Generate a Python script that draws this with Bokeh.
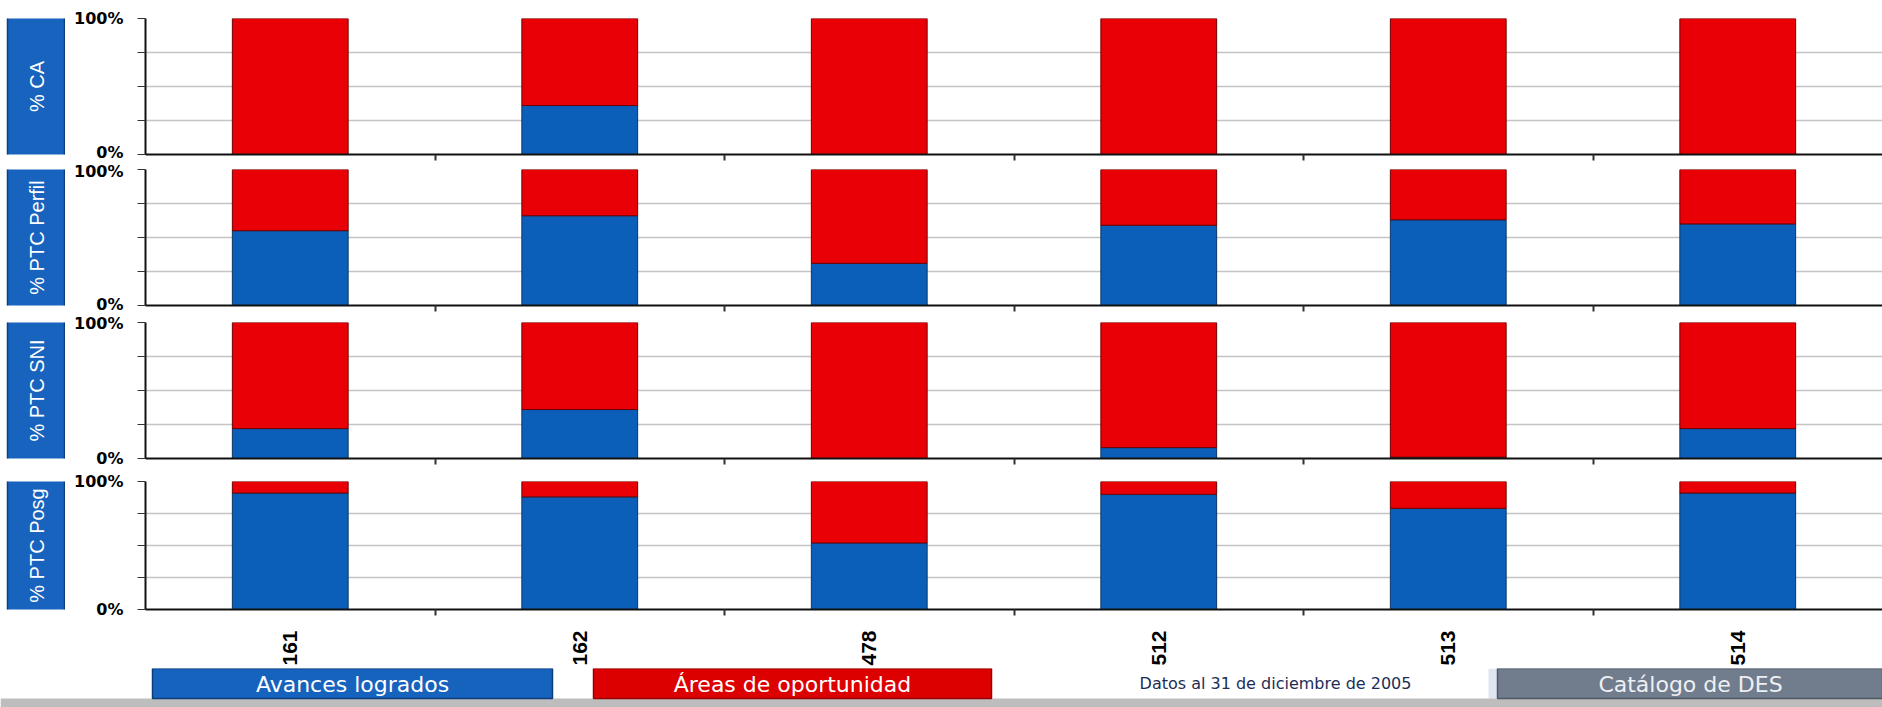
import numpy as np
from bokeh.plotting import figure
from bokeh.models import ColumnDataSource, FixedTicker, Range1d
from bokeh.layouts import row, column
from bokeh.embed import file_html
from bokeh.resources import INLINE
from bokeh.core.properties import value

# ---------------- data ----------------
categories = ["161", "162", "478", "512", "513", "514"]
panel_labels = ["% CA", "% PTC Perfil", "% PTC SNI", "% PTC Posg"]
avances_ca = [0, 36, 0, 0, 0, 0]
avances_perfil = [55, 66, 31, 59, 63, 60]
avances_sni = [22, 36, 0, 8, 1, 22]
avances_posg = [91, 88, 52, 90, 79, 91]
panel_values = [avances_ca, avances_perfil, avances_sni, avances_posg]
y_tick_values = [0, 25, 50, 75, 100]
y_tick_labels = {0: "0%", 25: "", 50: "", 75: "", 100: "100%"}
legend_labels = ["Avances logrados", "Áreas de oportunidad"]
note_text = "Datos al 31 de diciembre de 2005"
button_text = "Catálogo de DES"

# ---------------- style ----------------
BLUE = "#0c5fb8"
BLUE_EDGE = "#0a3566"
RED = "#e80006"
RED_EDGE = "#6e0000"
LABEL_BOX = "#1763bd"
TOTAL_W = 1882
LW = 65               # width of label strip
PW = TOTAL_W - LW     # panel figure width
FH = 136              # frame height
rows_spec = [(12, 7), (8, 8), (9, 13), (10, 51)]  # (top border, bottom border)


def panel(vals, top, bottom, last):
    n = len(categories)
    centers = [i + 0.5 for i in range(n)]
    bounds = [float(i) for i in range(1, n)]
    src = ColumnDataSource(dict(x=centers, av=vals, op=[100 - v for v in vals]))
    p = figure(width=PW, height=top + FH + bottom,
               x_range=Range1d(0, n), y_range=Range1d(0, 100),
               output_backend="svg", toolbar_location=None, title=None,
               min_border_left=80, min_border_right=0,
               min_border_top=top, min_border_bottom=bottom)
    p.outline_line_color = None
    p.vbar_stack(["av", "op"], x="x", width=0.4, source=src,
                 fill_color=[BLUE, RED], line_color=[BLUE_EDGE, RED_EDGE],
                 line_width=1)
    # y axis
    ya = p.yaxis[0]
    ya.ticker = FixedTicker(ticks=y_tick_values)
    ya.major_label_overrides = y_tick_labels
    ya.axis_line_color = "#111111"
    ya.axis_line_width = 2
    ya.major_tick_out = 8
    ya.major_tick_in = 0
    ya.major_tick_line_color = "#333333"
    ya.major_tick_line_width = 1
    ya.minor_tick_out = 0
    ya.minor_tick_in = 0
    ya.major_label_standoff = 14
    ya.major_label_text_font = "DejaVu Sans"
    ya.major_label_text_font_style = "bold"
    ya.major_label_text_font_size = "16px"
    ya.major_label_text_color = "#000000"
    # x axis
    xa = p.xaxis[0]
    xa.axis_line_color = "#111111"
    xa.axis_line_width = 2
    if last:
        xa.ticker = FixedTicker(ticks=centers, minor_ticks=bounds)
        xa.major_label_overrides = {c: lab for c, lab in zip(centers, categories)}
        xa.major_tick_out = 0
        xa.major_tick_in = 0
        xa.minor_tick_out = 6
        xa.minor_tick_in = 0
        xa.minor_tick_line_color = "#333333"
        xa.minor_tick_line_width = 2
        xa.major_label_orientation = np.pi / 2
        xa.major_label_standoff = 15
        xa.major_label_text_font = "Liberation Sans"
        xa.major_label_text_font_style = "bold"
        xa.major_label_text_font_size = "21px"
        xa.major_label_text_color = "#000000"
    else:
        xa.ticker = FixedTicker(ticks=bounds)
        xa.major_label_overrides = {b: "" for b in bounds}
        xa.major_label_text_font_size = "0px"
        xa.major_label_standoff = 0
        xa.major_tick_out = 6
        xa.major_tick_in = 0
        xa.major_tick_line_color = "#333333"
        xa.major_tick_line_width = 2
        xa.minor_tick_out = 0
        xa.minor_tick_in = 0
    p.xgrid.visible = False
    p.ygrid.ticker = FixedTicker(ticks=y_tick_values)
    p.ygrid.grid_line_color = "#c4c4c4"
    p.ygrid.grid_line_width = 1.5
    return p


def label_fig(text, top, bottom):
    h = top + FH + bottom
    lf = figure(width=LW, height=h, x_range=Range1d(0, LW), y_range=Range1d(0, 100),
                output_backend="svg", toolbar_location=None, title=None,
                x_axis_location=None, y_axis_location=None, min_border=0)
    lf.outline_line_color = None
    lf.grid.visible = False
    lf.quad(left=[7], right=[64], top=[104], bottom=[-4],
            fill_color=LABEL_BOX, line_color="#0b3f7e", line_width=1.5)
    lf.text(x=[36], y=[50], text=[text], angle=np.pi / 2,
            text_align="center", text_baseline="middle", text_color="white",
            text_font=value("Liberation Sans"), text_font_size="20px")
    return lf


# top gray band
top_band = figure(width=TOTAL_W, height=6, output_backend="svg",
                  toolbar_location=None, title=None, x_axis_location=None,
                  y_axis_location=None, min_border=0)
top_band.outline_line_color = None
top_band.grid.visible = False
top_band.background_fill_color = "#c3c3c3"
top_band.border_fill_color = "#c3c3c3"

rows = []
for i, (lab, vals) in enumerate(zip(panel_labels, panel_values)):
    top, bottom = rows_spec[i]
    rows.append(row(label_fig(lab, top, bottom),
                    panel(vals, top, bottom, i == len(panel_labels) - 1)))

# ---------------- legend strip ----------------
lg = figure(width=TOTAL_W, height=39, x_range=Range1d(0, TOTAL_W),
            y_range=Range1d(707, 668), output_backend="svg",
            toolbar_location=None, title=None,
            x_axis_location=None, y_axis_location=None, min_border=0)
lg.outline_line_color = None
lg.grid.visible = False
lg.quad(left=[1488], right=[1882], top=[668], bottom=[698],
        fill_color="#dfe6f1", line_color=None)
lg.quad(left=[0], right=[1882], top=[698], bottom=[707],
        fill_color="#bdbdbd", line_color=None)
lg.quad(left=[152, 593, 1497], right=[552, 991, 1882], top=[668] * 3,
        bottom=[698] * 3, fill_color=["#1663be", "#dd0000", "#717c8d"],
        line_color=["#0b3d7a", "#960000", "#4f5866"], line_width=1.5)
lg.text(x=[352, 792], y=[684, 684], text=legend_labels, text_align="center",
        text_baseline="middle", text_color="white",
        text_font=value("DejaVu Sans"), text_font_size="22px")
lg.text(x=[1275], y=[683], text=[note_text], text_align="center",
        text_baseline="middle", text_color="#1c2e55",
        text_font=value("DejaVu Sans"), text_font_size="16px")
lg.text(x=[1690], y=[684], text=[button_text], text_align="center",
        text_baseline="middle", text_color="#eef0f4",
        text_font=value("DejaVu Sans"), text_font_size="22px")

layout = column(top_band, *rows, lg)
open("out.html", "w").write(file_html(layout, INLINE))
